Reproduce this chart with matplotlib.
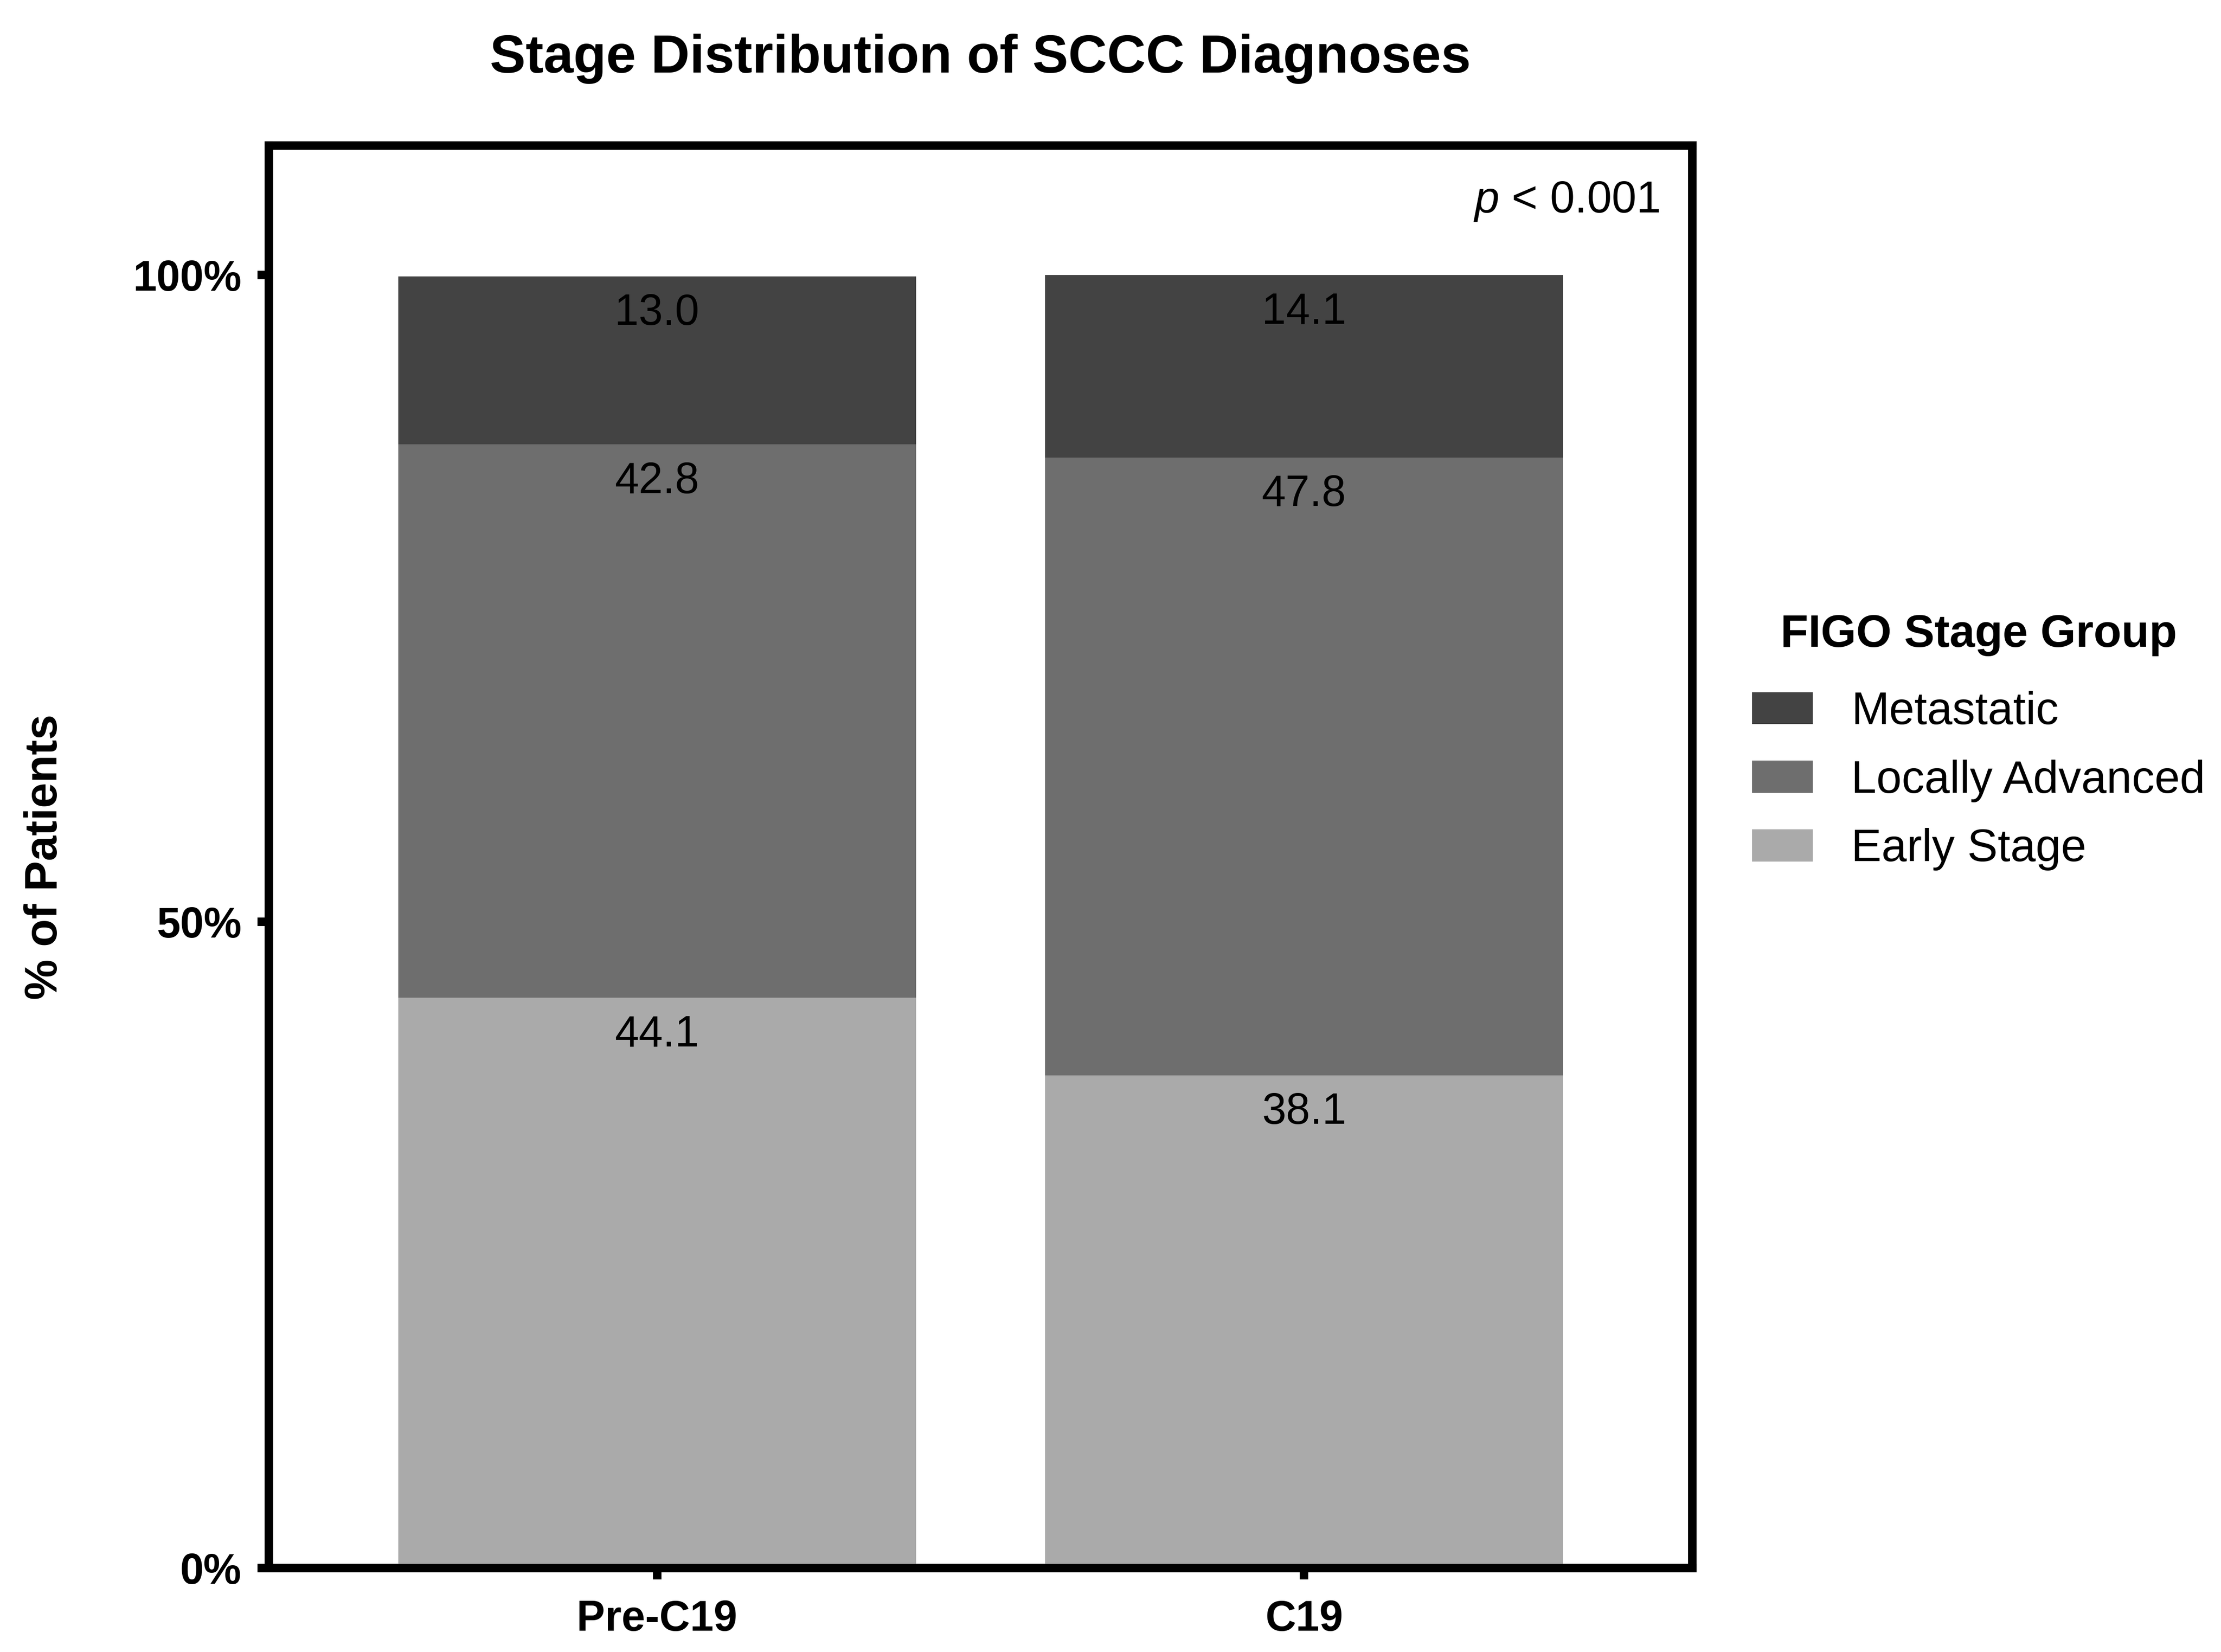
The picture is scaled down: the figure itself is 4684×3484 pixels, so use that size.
import numpy as np
import matplotlib
matplotlib.use("Agg")
import matplotlib.pyplot as plt

plt.rcParams['font.family'] = ['Liberation Sans', 'DejaVu Sans']
plt.rcParams['mathtext.fontset'] = 'custom'
plt.rcParams['mathtext.rm'] = 'Liberation Sans'
plt.rcParams['mathtext.it'] = 'Liberation Sans:italic'

# data
periods = ['Pre-C19', 'C19']
stages = ['Early Stage', 'Locally Advanced', 'Metastatic']
early = [44.1, 38.1]
locally = [42.8, 47.8]
metastatic = [13.0, 14.1]
stage_colors = ['#aaaaaa', '#6e6e6e', '#434343']

fig = plt.figure(figsize=(4684 / 300, 3484 / 300), dpi=300)
ax = fig.add_axes([0.121, 0.0508, 0.641, 0.861])

x = np.arange(len(periods))
bottom = np.zeros(len(periods))
handles = []
for name, vals, col in zip(stages, [early, locally, metastatic], stage_colors):
    vals = np.array(vals)
    bars = ax.bar(x, vals, 0.8, bottom=bottom, color=col, label=name, linewidth=0)
    handles.append(bars)
    for xi, b, v in zip(x, bottom, vals):
        ax.annotate(f'{v:.1f}', (xi, b + v), xytext=(0, -8.5), textcoords='offset points',
                    ha='center', va='top', fontsize=22, color='black')
    bottom += vals

ax.set_xlim(-0.6, 1.6)
ax.set_ylim(0, 110)
ax.set_yticks([0, 50, 100])
ax.set_yticklabels(['0%', '50%', '100%'])
ax.set_xticks(x)
ax.set_xticklabels(periods)

for lab in ax.get_xticklabels() + ax.get_yticklabels():
    lab.set_fontweight('bold')
    lab.set_fontsize(21.5)

for sp in ax.spines.values():
    sp.set_linewidth(4.3)
ax.tick_params(axis='both', width=4.3, length=5.8)
ax.tick_params(axis='x', pad=10)
ax.tick_params(axis='y', pad=8)

ax.set_ylabel('% of Patients', fontsize=23, fontweight='bold')
ax.yaxis.set_label_coords(-0.142, 0.5)
ax.set_title('Stage Distribution of SCCC Diagnoses', fontsize=27.2, fontweight='bold', pad=37)

ax.text(0.977, 0.953, r'$p$ < 0.001', transform=ax.transAxes, ha='right', va='baseline', fontsize=22.5)

leg = ax.legend(handles[::-1], stages[::-1], title='FIGO Stage Group', frameon=False,
                loc='upper left', bbox_to_anchor=(1.042, 0.671), borderaxespad=0, borderpad=0,
                fontsize=23, title_fontproperties={'weight': 'bold', 'size': 23},
                handlelength=1.33, handleheight=0.71, handletextpad=0.85, labelspacing=0.57)
# more room between legend title and the entries
leg._legend_box.sep = 17.5

fig.savefig('out.png', dpi=300)
